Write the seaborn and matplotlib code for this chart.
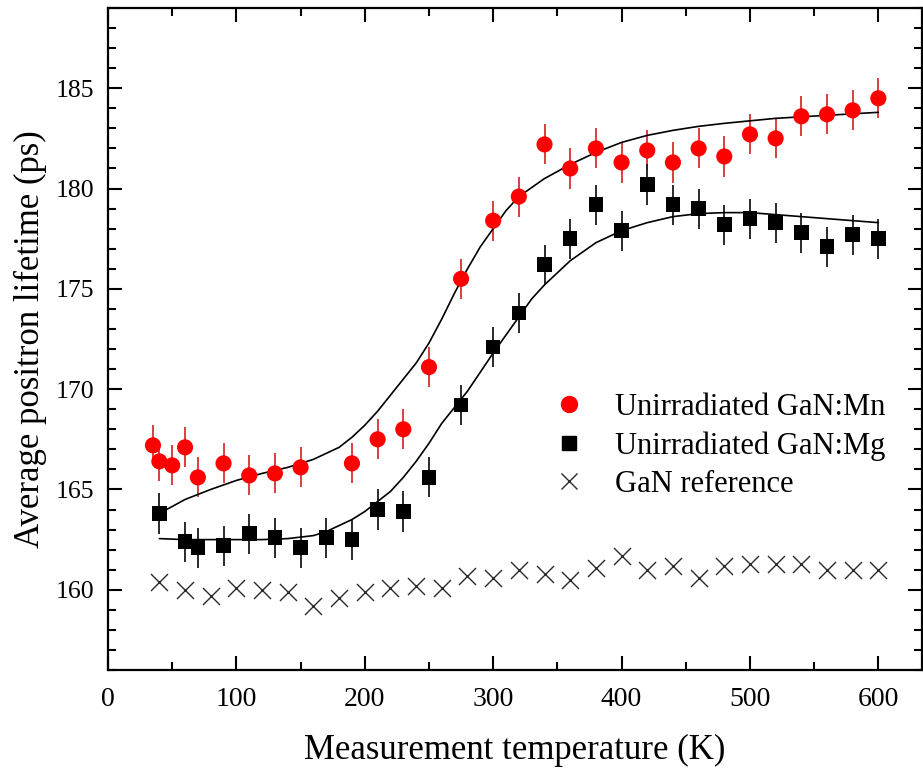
import numpy as np
import pandas as pd
import seaborn as sns
import matplotlib.pyplot as plt
from matplotlib.ticker import MultipleLocator
from matplotlib.lines import Line2D

# GaN:Mn (red circles)
temp_mn = [35, 40, 50, 60, 70, 90, 110, 130, 150, 190, 210, 230, 250, 275, 300,
           320, 340, 360, 380, 400, 420, 440, 460, 480, 500, 520, 540, 560, 580, 600]
tau_mn = [167.2, 166.4, 166.2, 167.1, 165.6, 166.3, 165.7, 165.8, 166.1, 166.3, 167.5, 168.0,
          171.1, 175.5, 178.4, 179.6, 182.2, 181.0, 182.0, 181.3, 181.9, 181.3, 182.0, 181.6,
          182.7, 182.5, 183.6, 183.7, 183.9, 184.5]

# GaN:Mg (black squares)
temp_mg = [40, 60, 70, 90, 110, 130, 150, 170, 190, 210, 230, 250, 275, 300, 320,
           340, 360, 380, 400, 420, 440, 460, 480, 500, 520, 540, 560, 580, 600]
tau_mg = [163.8, 162.4, 162.1, 162.2, 162.8, 162.6, 162.1, 162.6, 162.5, 164.0, 163.9, 165.6,
          169.2, 172.1, 173.8, 176.2, 177.5, 179.2, 177.9, 180.2, 179.2, 179.0, 178.2, 178.5,
          178.3, 177.8, 177.1, 177.7, 177.5]

err_mn = 1.0
err_mg = 1.0

# GaN reference (crosses)
temp_ref = [40, 60, 80, 100, 120, 140, 160, 180, 200, 220, 240, 260, 280, 300, 320, 340,
            360, 380, 400, 420, 440, 460, 480, 500, 520, 540, 560, 580, 600]
tau_ref = [160.4, 160.0, 159.7, 160.1, 160.0, 159.9, 159.2, 159.6, 159.9, 160.1, 160.2, 160.1,
           160.7, 160.6, 161.0, 160.8, 160.5, 161.1, 161.7, 161.0, 161.2, 160.6, 161.2, 161.3,
           161.3, 161.3, 161.0, 161.0, 161.0]

# fitted curves
temp_fit_mn = [40, 60, 80, 100, 120, 140, 160, 170, 180, 190, 200, 210, 220, 230, 240, 250,
               260, 270, 280, 290, 300, 310, 320, 340, 360, 380, 400, 420, 440, 460, 480,
               520, 560, 600]
fit_mn = [163.8, 164.5, 165.0, 165.45, 165.8, 166.1, 166.5, 166.8, 167.1, 167.6, 168.2, 168.9,
          169.7, 170.5, 171.3, 172.3, 173.5, 174.8, 176.0, 177.1, 178.0, 178.9, 179.6, 180.5,
          181.2, 181.8, 182.3, 182.65, 182.9, 183.1, 183.25, 183.5, 183.65, 183.8]
temp_fit_mg = [40, 60, 80, 100, 120, 140, 160, 170, 180, 190, 200, 210, 220, 230, 240, 250,
               260, 270, 280, 290, 300, 310, 320, 330, 340, 360, 380, 400, 420, 440, 460,
               480, 500, 520, 560, 600]
fit_mg = [162.55, 162.5, 162.5, 162.5, 162.5, 162.55, 162.7, 162.9, 163.2, 163.5, 163.9, 164.4,
          164.9, 165.6, 166.4, 167.3, 168.3, 169.1, 169.9, 170.85, 171.8, 172.7, 173.6, 174.5,
          175.2, 176.4, 177.3, 177.9, 178.3, 178.6, 178.75, 178.8, 178.8, 178.7, 178.5, 178.3]

sns.set_style('ticks')
plt.rcParams['font.family'] = ['Liberation Serif', 'DejaVu Serif']
plt.rcParams.update({'axes.edgecolor': 'black', 'xtick.color': 'black', 'ytick.color': 'black',
                     'text.color': 'black', 'axes.labelcolor': 'black'})

fig = plt.figure(figsize=(9.23, 7.72), dpi=100)
ax = fig.add_axes([108 / 923, 102 / 772, 814 / 923, 662 / 772])

df_fit = pd.DataFrame({'T': temp_fit_mn + temp_fit_mg,
                       'tau': fit_mn + fit_mg,
                       'set': ['Mn'] * len(temp_fit_mn) + ['Mg'] * len(temp_fit_mg)})
sns.lineplot(data=df_fit, x='T', y='tau', units='set', estimator=None,
             color='black', linewidth=1.2, ax=ax, zorder=2)

# error bars
ax.errorbar(temp_mn, tau_mn, yerr=err_mn, fmt='none', ecolor='#d83030', elinewidth=1.3, zorder=1)
ax.errorbar(temp_mg, tau_mg, yerr=err_mg, fmt='none', ecolor='#1a1a1a', elinewidth=1.3, zorder=1)

sns.scatterplot(x=temp_mn, y=tau_mn, marker='o', s=135, color='#ff0000', edgecolor='none',
                ax=ax, zorder=3)
sns.scatterplot(x=temp_mg, y=tau_mg, marker='s', s=110, color='black', edgecolor='none',
                ax=ax, zorder=3)
sns.scatterplot(x=temp_ref, y=tau_ref, marker='x', s=150, color='#2a2a2a', linewidth=1.0,
                ax=ax, zorder=3)

ax.set_xlim(0, 634)
ax.set_ylim(156, 189)
ax.xaxis.set_major_locator(MultipleLocator(100))
ax.xaxis.set_minor_locator(MultipleLocator(50))
ax.yaxis.set_major_locator(MultipleLocator(5))
ax.yaxis.set_minor_locator(MultipleLocator(1))
ax.tick_params(which='both', direction='in', top=True, right=True, width=1.5)
ax.tick_params(which='major', length=10)
ax.tick_params(which='minor', length=6)
ax.tick_params(axis='x', labelsize=20, pad=12)
ax.tick_params(axis='y', labelsize=18.5, pad=10)
for s in ax.spines.values():
    s.set_linewidth(1.6)
    s.set_visible(True)

ax.set_xlabel('Measurement temperature (K)', fontsize=25, labelpad=16)
ax.set_ylabel('Average positron lifetime (ps)', fontsize=25, labelpad=6)

handles = [
    Line2D([], [], linestyle='none', marker='o', markersize=11.5, color='#ff0000'),
    Line2D([], [], linestyle='none', marker='s', markersize=10.5, color='black'),
    Line2D([], [], linestyle='none', marker='x', markersize=12, color='#2a2a2a', markeredgewidth=1.0),
]
ax.legend(handles, ['Unirradiated GaN:Mn', 'Unirradiated GaN:Mg', 'GaN reference'],
          loc='upper left', bbox_to_anchor=(0.51, 0.46), frameon=False, fontsize=22,
          handletextpad=0.9, labelspacing=0.3, handlelength=1.2)

fig.savefig('out.png', dpi=100)
